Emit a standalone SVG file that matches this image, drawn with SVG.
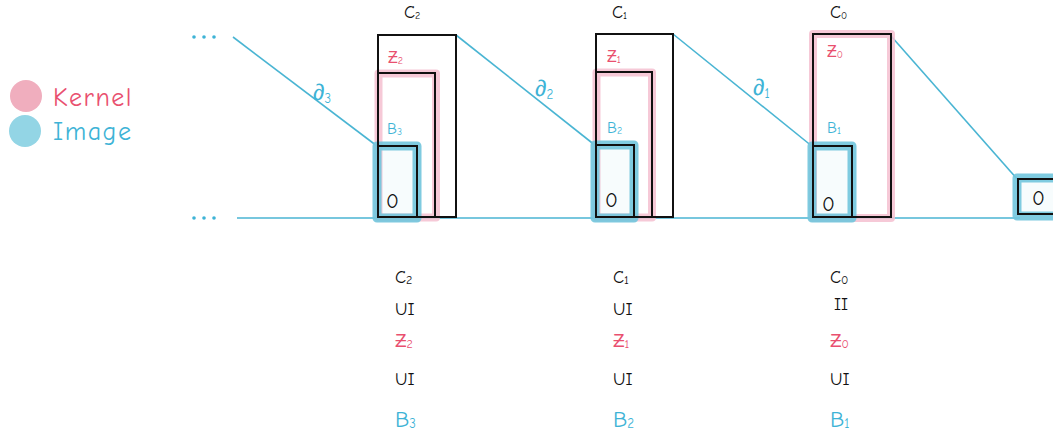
<svg xmlns="http://www.w3.org/2000/svg" width="1053" height="434" viewBox="0 0 1053 434">
<style>
.box{fill:none;stroke:#111;stroke-width:2}
.pg{fill:none;stroke:#f4bfd0;stroke-width:8;stroke-linejoin:round;opacity:0.85}
.bg{fill:#7fcde2;fill-opacity:0.06;stroke:#72c6dd;stroke-width:9;stroke-linejoin:round;opacity:0.9}
.ln{fill:none;stroke:#4ab5d3;stroke-width:1.6}
.t{font-family:"Comic Neue","Liberation Sans",sans-serif}
.k{fill:#111;font-size:18px}
.p{fill:#e9506f}
.b{fill:#3eb3d6}
.z{font-size:21px;fill:#111}
.dot{fill:#3eb3d6}
</style>
<rect width="1053" height="434" fill="#fff"/>
<g id="legend">
<circle cx="26" cy="96" r="16" fill="#f0aebe"/>
<circle cx="25" cy="131" r="16" fill="#93d5e5"/>
<text class="t p" x="53" y="106" font-size="26" letter-spacing="1.5">Kernel</text>
<text class="t b" x="53" y="140" font-size="26" letter-spacing="1.5">Image</text>
</g>
<g id="connectors">
<line class="ln" x1="233" y1="37" x2="377" y2="146"/>
<line class="ln" x1="456" y1="35" x2="596" y2="146"/>
<line class="ln" x1="673" y1="34" x2="813" y2="147"/>
<line class="ln" x1="891" y1="36" x2="1018" y2="180"/>
<line class="ln" x1="237" y1="218" x2="1020" y2="218"/>
<text class="t b" x="313" y="100" font-size="23">∂<tspan font-size="13" dy="3">3</tspan></text>
<text class="t b" x="535" y="96" font-size="23">∂<tspan font-size="13" dy="3">2</tspan></text>
<text class="t b" x="753" y="95" font-size="23">∂<tspan font-size="13" dy="3">1</tspan></text>
</g>
<g id="dots-top">
<circle class="dot" cx="194" cy="37" r="1.8"/><circle class="dot" cx="204" cy="37" r="1.8"/><circle class="dot" cx="214" cy="37" r="1.8"/>
</g>
<g id="dots-bottom">
<circle class="dot" cx="194" cy="218" r="1.8"/><circle class="dot" cx="204" cy="218" r="1.8"/><circle class="dot" cx="214" cy="218" r="1.8"/>
</g>
<g id="node-c2">
<text class="t k" x="404" y="18" font-size="17">C<tspan font-size="10" dy="1">2</tspan></text>
<rect class="pg" x="378.5" y="73.5" width="57.5" height="144"/>
<rect class="bg" x="377" y="146" width="40" height="72"/>
<rect class="box" x="378" y="35" width="78" height="182"/>
<rect class="box" x="378" y="73" width="57" height="144"/>
<rect class="box" x="378" y="146" width="39" height="71"/>
<text class="t p" x="388" y="63" font-size="16">Ƶ<tspan font-size="10" dy="1">2</tspan></text>
<text class="t b" x="387" y="134" font-size="16">B<tspan font-size="10" dy="1">3</tspan></text>
<text class="t z" x="386" y="208">0</text>
</g>
<g id="node-c1">
<text class="t k" x="612" y="18" font-size="17">C<tspan font-size="10" dy="1">1</tspan></text>
<rect class="pg" x="596.5" y="72.5" width="55.5" height="145"/>
<rect class="bg" x="595" y="145" width="39" height="73"/>
<rect class="box" x="596" y="34" width="77" height="183"/>
<rect class="box" x="596" y="72" width="56" height="145"/>
<rect class="box" x="596" y="145" width="38" height="72"/>
<text class="t p" x="607" y="62" font-size="16">Ƶ<tspan font-size="10" dy="1">1</tspan></text>
<text class="t b" x="607" y="133" font-size="16">B<tspan font-size="10" dy="1">2</tspan></text>
<text class="t z" x="605" y="207">0</text>
</g>
<g id="node-c0">
<text class="t k" x="830" y="18" font-size="17">C<tspan font-size="10" dy="1">0</tspan></text>
<rect class="pg" x="813" y="34" width="78" height="184"/>
<rect class="bg" x="812" y="146" width="40" height="72"/>
<rect class="box" x="813" y="34" width="78" height="183"/>
<rect class="box" x="813" y="146" width="39" height="71"/>
<text class="t p" x="827" y="57" font-size="16">Ƶ<tspan font-size="10" dy="1">0</tspan></text>
<text class="t b" x="827" y="133" font-size="16">B<tspan font-size="10" dy="1">1</tspan></text>
<text class="t z" x="822" y="211">0</text>
</g>
<g id="node-last">
<rect class="bg" x="1017" y="178" width="45" height="38"/>
<rect class="box" x="1018" y="179" width="45" height="35"/>
<text class="t z" x="1032" y="205">0</text>
</g>
<g id="col-c2">
<text class="t k" x="395" y="283" font-size="19">C<tspan font-size="12" dy="1">2</tspan></text>
<text class="t k" x="395" y="315">UI</text>
<text class="t p" x="395" y="347" font-size="19">Ƶ<tspan font-size="12" dy="1">2</tspan></text>
<text class="t k" x="395" y="385">UI</text>
<text class="t b" x="395" y="427" font-size="23">B<tspan font-size="13" dy="1">3</tspan></text>
</g>
<g id="col-c1">
<text class="t k" x="613" y="283" font-size="19">C<tspan font-size="12" dy="1">1</tspan></text>
<text class="t k" x="613" y="315">UI</text>
<text class="t p" x="613" y="347" font-size="19">Ƶ<tspan font-size="12" dy="1">1</tspan></text>
<text class="t k" x="613" y="385">UI</text>
<text class="t b" x="613" y="427" font-size="23">B<tspan font-size="13" dy="1">2</tspan></text>
</g>
<g id="col-c0">
<text class="t k" x="830" y="283" font-size="19">C<tspan font-size="12" dy="1">0</tspan></text>
<text class="t k" x="834" y="310" font-size="12">II</text>
<text class="t p" x="830" y="347" font-size="19">Ƶ<tspan font-size="12" dy="1">0</tspan></text>
<text class="t k" x="830" y="385">UI</text>
<text class="t b" x="830" y="427" font-size="23">B<tspan font-size="13" dy="1">1</tspan></text>
</g>
</svg>
